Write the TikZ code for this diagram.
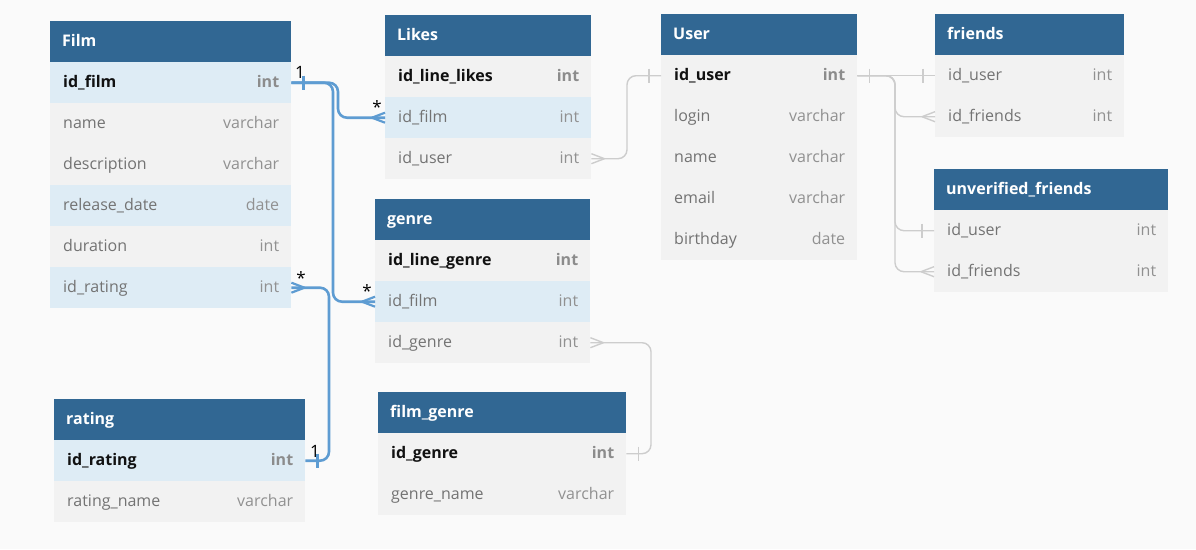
\documentclass[tikz,border=0pt]{standalone}
\usepackage{fontspec}
\setmainfont{Open Sans}
\usetikzlibrary{calc}
\definecolor{bgc}{RGB}{250,250,250}
\definecolor{hdrc}{RGB}{49,103,147}
\definecolor{hlc}{RGB}{222,236,245}
\definecolor{rowc}{RGB}{242,242,242}
\definecolor{fldc}{RGB}{115,115,115}
\definecolor{typc}{RGB}{145,145,145}
\definecolor{keyc}{RGB}{17,17,17}
\definecolor{ktypc}{RGB}{140,140,140}
\definecolor{bluec}{RGB}{94,156,210}
\definecolor{grayc}{RGB}{205,205,205}
\tikzset{
 hdr/.style={fill=hdrc, draw=none, minimum height=41pt, inner sep=0pt},
 hdrtxt/.style={text=white, font=\fontsize{16}{19}\selectfont\bfseries, inner sep=0pt, text height=11pt, text depth=3pt},
 cell/.style={draw=none, minimum height=41pt, inner sep=0pt},
 hl/.style={fill=hlc}, pl/.style={fill=rowc},
 fld/.style={text=fldc, font=\fontsize{16}{19}\selectfont, inner sep=0pt, text height=11pt, text depth=3pt},
 fldtype/.style={fld, text=typc},
 key/.style={fld, text=keyc, font=\fontsize{16}{19}\selectfont\bfseries},
 keytype/.style={key, text=ktypc},
 bl/.style={draw=bluec, line width=2.6pt, rounded corners=9pt},
 blt/.style={draw=bluec, line width=2.2pt},
 gl/.style={draw=grayc, line width=1.4pt, rounded corners=9pt},
 glt/.style={draw=grayc, line width=1.4pt},
 card/.style={text=black, font=\fontsize{17}{20}\selectfont, inner sep=0pt}
}
\newcommand\thd[5]{\node[hdr, minimum width=#4pt, anchor=north west] (#1) at (#2,#3) {};
 \node[hdrtxt, anchor=west] (#1-t) at ([xshift=12pt,yshift=-0.5pt]#1.west) {#5};}
\newcommand\trw[8]{\node[cell, #5, minimum width=#4pt, anchor=north west] (#1) at (#2,#3) {};
 \node[#6, anchor=west] (#1-f) at ([xshift=13pt,yshift=-1pt]#1.west) {#7};
 \node[#6type, anchor=east] (#1-y) at ([xshift=-12pt,yshift=-1pt]#1.east) {#8};}
\begin{document}
\begin{tikzpicture}[x=1pt,y=-1pt]
\fill[bgc] (0,0) rectangle (1196,549);
\useasboundingbox (0,0) rectangle (1196,549);
% Film
\thd{film}{50}{21}{241}{Film}
\trw{film-idfilm}{50}{62}{241}{hl}{key}{id\_film}{int}
\trw{film-name}{50}{103}{241}{pl}{fld}{name}{varchar}
\trw{film-desc}{50}{144}{241}{pl}{fld}{description}{varchar}
\trw{film-rdate}{50}{185}{241}{hl}{fld}{release\_date}{date}
\trw{film-dur}{50}{226}{241}{pl}{fld}{duration}{int}
\trw{film-idrating}{50}{267}{241}{hl}{fld}{id\_rating}{int}
% Likes
\thd{likes}{385}{15}{206}{Likes}
\trw{likes-idline}{385}{56}{206}{pl}{key}{id\_line\_likes}{int}
\trw{likes-idfilm}{385}{97}{206}{hl}{fld}{id\_film}{int}
\trw{likes-iduser}{385}{138}{206}{pl}{fld}{id\_user}{int}
% User
\thd{user}{661}{14}{196}{User}
\trw{user-iduser}{661}{55}{196}{pl}{key}{id\_user}{int}
\trw{user-login}{661}{96}{196}{pl}{fld}{login}{varchar}
\trw{user-name}{661}{137}{196}{pl}{fld}{name}{varchar}
\trw{user-email}{661}{178}{196}{pl}{fld}{email}{varchar}
\trw{user-bday}{661}{219}{196}{pl}{fld}{birthday}{date}
% friends
\thd{friends}{935}{14}{189}{friends}
\trw{friends-iduser}{935}{55}{189}{pl}{fld}{id\_user}{int}
\trw{friends-idfriends}{935}{96}{189}{pl}{fld}{id\_friends}{int}
% unverified_friends
\thd{unv}{934}{169}{234}{unverified\_friends}
\trw{unv-iduser}{934}{210}{234}{pl}{fld}{id\_user}{int}
\trw{unv-idfriends}{934}{251}{234}{pl}{fld}{id\_friends}{int}
% genre
\thd{genre}{375}{199}{215}{genre}
\trw{genre-idline}{375}{240}{215}{pl}{key}{id\_line\_genre}{int}
\trw{genre-idfilm}{375}{281}{215}{hl}{fld}{id\_film}{int}
\trw{genre-idgenre}{375}{322}{215}{pl}{fld}{id\_genre}{int}
% rating
\thd{rating}{54}{399}{251}{rating}
\trw{rating-idrating}{54}{440}{251}{hl}{key}{id\_rating}{int}
\trw{rating-name}{54}{481}{251}{pl}{fld}{rating\_name}{varchar}
% film_genre
\thd{fg}{378}{392}{248}{film\_genre}
\trw{fg-idgenre}{378}{433}{248}{pl}{key}{id\_genre}{int}
\trw{fg-name}{378}{474}{248}{pl}{fld}{genre\_name}{varchar}
% helper columns
\coordinate (vA) at (338,0);
\coordinate (vB) at (333,0);
\coordinate (vC) at (329,0);
\coordinate (vD) at (627,0);
\coordinate (vE) at (895,0);
\coordinate (vF) at (651,0);
% blue connectors
\draw[bl] (film-idfilm.east) -- (film-idfilm.east -| vA) |- (likes-idfilm.west);
\draw[bl] (film-idfilm.east) -- (film-idfilm.east -| vB) |- (genre-idfilm.west);
\draw[bl] (film-idrating.east) -- (film-idrating.east -| vC) |- (rating-idrating.east);
\draw[blt] ([xshift=12pt,yshift=7pt]film-idfilm.east) -- ([xshift=12pt,yshift=-7pt]film-idfilm.east);
\draw[blt] ([xshift=-13pt]likes-idfilm.west) -- ([yshift=5pt]likes-idfilm.west)
           ([xshift=-13pt]likes-idfilm.west) -- ([yshift=-5pt]likes-idfilm.west);
\draw[blt] ([xshift=-13pt]genre-idfilm.west) -- ([yshift=5pt]genre-idfilm.west)
           ([xshift=-13pt]genre-idfilm.west) -- ([yshift=-5pt]genre-idfilm.west);
\draw[blt] ([xshift=13pt]film-idrating.east) -- ([yshift=5pt]film-idrating.east)
           ([xshift=13pt]film-idrating.east) -- ([yshift=-5pt]film-idrating.east);
\draw[blt] ([xshift=12pt,yshift=7pt]rating-idrating.east) -- ([xshift=12pt,yshift=-7pt]rating-idrating.east);
\node[card] (c1) at (300,72) {1};
\node[card] (c2) at (377,107) {*};
\node[card] (c3) at (367,291) {*};
\node[card] (c4) at (301,278) {*};
\node[card] (c5) at (315,451) {1};
% gray connectors
\draw[gl] (user-iduser.west) -- (user-iduser.west -| vD) |- (likes-iduser.east);
\draw[glt] ([xshift=-12pt,yshift=7pt]user-iduser.west) -- ([xshift=-12pt,yshift=-7pt]user-iduser.west);
\draw[glt] ([xshift=13pt]likes-iduser.east) -- ([yshift=5pt]likes-iduser.east)
           ([xshift=13pt]likes-iduser.east) -- ([yshift=-5pt]likes-iduser.east);
\draw[gl] (user-iduser.east) -- (friends-iduser.west);
\draw[gl] (user-iduser.east) -- (user-iduser.east -| vE) |- (friends-idfriends.west);
\draw[gl] (user-iduser.east) -- (user-iduser.east -| vE) |- (unv-iduser.west);
\draw[gl] (user-iduser.east) -- (user-iduser.east -| vE) |- (unv-idfriends.west);
\draw[glt] ([xshift=12pt,yshift=7pt]user-iduser.east) -- ([xshift=12pt,yshift=-7pt]user-iduser.east);
\draw[glt] ([xshift=-12pt,yshift=7pt]friends-iduser.west) -- ([xshift=-12pt,yshift=-7pt]friends-iduser.west);
\draw[glt] ([xshift=-12pt,yshift=7pt]unv-iduser.west) -- ([xshift=-12pt,yshift=-7pt]unv-iduser.west);
\draw[glt] ([xshift=-13pt]friends-idfriends.west) -- ([yshift=5pt]friends-idfriends.west)
           ([xshift=-13pt]friends-idfriends.west) -- ([yshift=-5pt]friends-idfriends.west);
\draw[glt] ([xshift=-13pt]unv-idfriends.west) -- ([yshift=5pt]unv-idfriends.west)
           ([xshift=-13pt]unv-idfriends.west) -- ([yshift=-5pt]unv-idfriends.west);
\draw[gl] (genre-idgenre.east) -- (genre-idgenre.east -| vF) |- (fg-idgenre.east);
\draw[glt] ([xshift=13pt]genre-idgenre.east) -- ([yshift=5pt]genre-idgenre.east)
           ([xshift=13pt]genre-idgenre.east) -- ([yshift=-5pt]genre-idgenre.east);
\draw[glt] ([xshift=12pt,yshift=7pt]fg-idgenre.east) -- ([xshift=12pt,yshift=-7pt]fg-idgenre.east);
\end{tikzpicture}
\end{document}
